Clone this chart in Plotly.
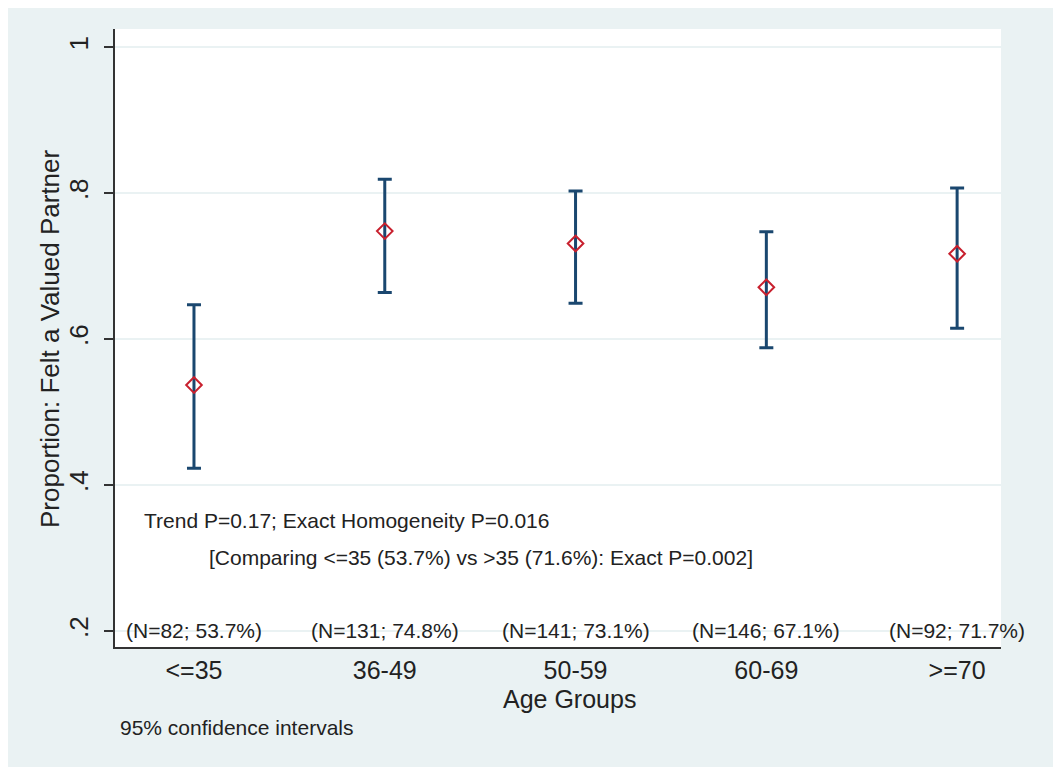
import plotly.graph_objects as go

categories = ["<=35", "36-49", "50-59", "60-69", ">=70"]
proportion = [0.537, 0.748, 0.731, 0.671, 0.717]
ci_lower = [0.423, 0.664, 0.649, 0.588, 0.615]
ci_upper = [0.647, 0.819, 0.803, 0.747, 0.807]
n_labels = ["(N=82; 53.7%)", "(N=131; 74.8%)", "(N=141; 73.1%)", "(N=146; 67.1%)", "(N=92; 71.7%)"]
y_ticks = [0.2, 0.4, 0.6, 0.8, 1.0]
y_tick_text = [".2", ".4", ".6", ".8", "1"]

xpos = list(range(1, len(categories) + 1))
err_plus = [u - p for u, p in zip(ci_upper, proportion)]
err_minus = [p - l for p, l in zip(proportion, ci_lower)]

BG = "#EAF2F3"
FONT = "Liberation Sans, Arial, sans-serif"

fig = go.Figure()
fig.add_trace(go.Scatter(
    x=xpos, y=proportion, mode="markers",
    marker=dict(symbol="diamond-open", color="#C8202E", size=12, line=dict(width=2, color="#C8202E")),
    error_y=dict(type="data", symmetric=False, array=err_plus, arrayminus=err_minus,
                 color="#1A476F", thickness=3, width=7),
    showlegend=False,
))

annotations = []
for x, t in zip(xpos, n_labels):
    annotations.append(dict(x=x, y=0.2, xref="x", yref="y", text=t, showarrow=False,
                            font=dict(size=21, color="#222"), xanchor="center", yanchor="middle"))
annotations += [
    dict(x=0.727, y=0.3507, xref="x", yref="y", text="Trend P=0.17; Exact Homogeneity P=0.016",
         showarrow=False, xanchor="left", yanchor="middle", font=dict(size=21, color="#222")),
    dict(x=1.068, y=0.300, xref="x", yref="y",
         text="[Comparing <=35 (53.7%) vs >35 (71.6%): Exact P=0.002]",
         showarrow=False, xanchor="left", yanchor="middle", font=dict(size=21, color="#222")),
    dict(x=0.0034, y=-0.131, xref="paper", yref="paper", text="95% confidence intervals",
         showarrow=False, xanchor="left", yanchor="middle", font=dict(size=21, color="#222")),
    dict(x=0.5135, y=-0.0840, xref="paper", yref="paper", text="Age Groups",
         showarrow=False, xanchor="center", yanchor="middle", font=dict(size=25, color="#222")),
    dict(x=-0.0734, y=0.5, xref="paper", yref="paper", text="Proportion: Felt a Valued Partner",
         showarrow=False, xanchor="center", yanchor="middle", textangle=-90,
         font=dict(size=26, color="#222")),
]

fig.update_layout(
    width=1053, height=759,
    margin=dict(l=107, r=60, t=21, b=120),
    paper_bgcolor=BG, plot_bgcolor="white",
    font=dict(family=FONT, color="#222"),
    annotations=annotations,
    xaxis=dict(range=[0.586, 5.23], tickvals=xpos, ticktext=categories, showgrid=False,
               zeroline=False, showline=True, linecolor="#333", linewidth=2, ticks="",
               tickfont=dict(size=25, color="#222"), ticklabelstandoff=0),
    yaxis=dict(range=[0.178, 1.025], tickvals=y_ticks, ticktext=y_tick_text, tickangle=-90,
               showgrid=True, gridcolor=BG, gridwidth=2, zeroline=False,
               showline=True, linecolor="#333", linewidth=2, ticks="outside", ticklen=9,
               tickwidth=2, tickcolor="#333", tickfont=dict(size=26, color="#222"),
               ticklabelstandoff=6),
)

fig.write_html("out.html")
